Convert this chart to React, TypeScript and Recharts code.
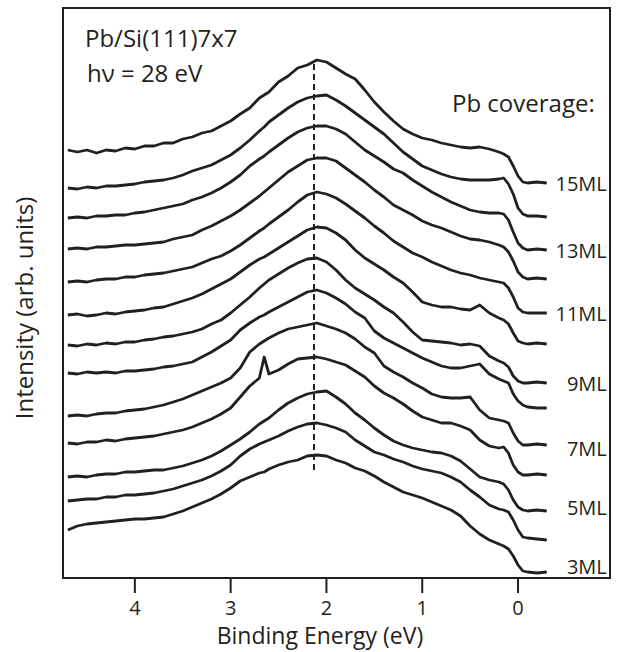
import React from "react";
import {
  LineChart,
  Line,
  XAxis,
  YAxis,
  ReferenceArea,
  ReferenceLine,
  ReferenceDot,
} from "recharts";

const INK = "#231f20";
const FONT = "'Open Sans', 'Noto Sans', sans-serif";

// binding energy grid (eV)
const energies = [
  4.7, 4.6, 4.5, 4.4, 4.3, 4.2, 4.1, 4.0, 3.9, 3.8, 3.7, 3.6, 3.5, 3.4, 3.3, 3.2, 3.1, 3.0, 2.9, 2.8, 2.7,
  2.65,
  2.6, 2.5, 2.4, 2.3, 2.2, 2.1, 2.0, 1.9, 1.8, 1.7, 1.6, 1.5, 1.4, 1.3, 1.2, 1.1, 1.0, 0.9, 0.8, 0.7, 0.6, 0.5, 0.4, 0.3, 0.2,
  0.15, 0.1, 0.05, 0, -0.05, -0.1, -0.2, -0.3,
];

// intensity (arb. units), stacked spectra
const ml15 = [
  428, 426, 428, 425, 428, 427, 430, 429, 432, 432, 435, 435, 439, 441, 445, 447, 452, 457, 464, 470, 480,
  483,
  486, 496, 502, 510, 513, 518, 516, 510, 504, 499, 488, 476, 466, 457, 449, 444, 440, 438, 435, 433, 431, 430, 431, 429, 426,
  424, 421, 412, 402, 396, 395, 396, 395,
];
const ml14 = [
  390, 389, 391, 390, 392, 392, 393, 394, 396, 397, 398, 400, 403, 407, 410, 413, 418, 423, 430, 438, 447,
  451,
  456, 463, 470, 476, 480, 482, 483, 478, 472, 465, 458, 451, 444, 435, 426, 419, 412, 408, 404, 401, 399, 398, 398, 398, 399,
  400, 394, 384, 370, 364, 362, 362, 361,
];
const ml13 = [
  360, 361, 360, 362, 362, 363, 363, 365, 366, 368, 370, 372, 374, 378, 381, 385, 390, 396, 403, 412, 419,
  422,
  426, 433, 440, 446, 450, 452, 452, 449, 444, 436, 428, 422, 416, 409, 405, 398, 392, 386, 381, 376, 372, 368, 366, 365, 365,
  364, 358, 346, 335, 330, 328, 329, 328,
];
const ml12 = [
  329, 330, 329, 331, 331, 332, 333, 333, 334, 335, 336, 339, 341, 343, 348, 352, 357, 362, 368, 375, 382,
  386,
  390, 398, 406, 412, 418, 420, 420, 417, 410, 403, 396, 388, 381, 373, 368, 363, 357, 353, 350, 346, 342, 339, 338, 336, 333,
  331, 326, 317, 306, 301, 299, 300, 299,
];
const ml11 = [
  296, 297, 296, 298, 299, 299, 301, 301, 303, 304, 305, 307, 309, 311, 315, 319, 322, 327, 333, 340, 347,
  350,
  354, 361, 368, 376, 383, 386, 384, 380, 374, 367, 360, 352, 345, 337, 331, 325, 321, 316, 312, 308, 305, 303, 300, 298, 296,
  295, 290, 281, 270, 266, 265, 265, 265,
];
const ml10 = [
  263, 264, 262, 263, 265, 264, 266, 267, 268, 270, 271, 274, 277, 280, 284, 289, 294, 299, 306, 313, 319,
  321,
  324, 330, 336, 342, 348, 351, 350, 345, 338, 328, 320, 314, 308, 301, 295, 286, 276, 273, 271, 271, 269, 268, 273, 265, 260,
  258, 254, 245, 237, 235, 234, 235, 234,
];
const ml9 = [
  233, 232, 234, 233, 235, 234, 236, 236, 238, 239, 241, 242, 244, 246, 249, 254, 258, 265, 273, 281, 290,
  294,
  298, 304, 310, 315, 319, 320, 316, 308, 298, 290, 284, 278, 271, 265, 256, 246, 238, 237, 236, 235, 233, 234, 232, 222, 217,
  215, 211, 202, 197, 195, 195, 196, 195,
];
const ml8 = [
  205, 204, 206, 205, 206, 205, 207, 207, 208, 209, 211, 212, 214, 216, 221, 226, 232, 238, 248, 255, 261,
  263,
  266, 271, 276, 281, 286, 288, 285, 280, 274, 266, 260, 247, 240, 235, 230, 225, 220, 216, 212, 210, 210, 212, 214, 204, 199,
  197, 195, 184, 177, 173, 171, 170, 170,
];
const ml7 = [
  162, 163, 162, 164, 165, 165, 167, 168, 169, 171, 173, 176, 179, 183, 187, 191, 195, 200, 210, 226, 234,
  237,
  240, 245, 249, 251, 253, 255, 252, 249, 245, 239, 231, 225, 212, 206, 201, 195, 190, 184, 181, 180, 180, 181, 168, 160, 158,
  157, 155, 145, 137, 133, 133, 134, 133,
];
const ml6 = [
  135, 134, 136, 136, 138, 137, 139, 140, 141, 142, 144, 146, 148, 151, 155, 159, 164, 170, 181, 192, 200,
  221,
  204, 208, 214, 219, 220, 221, 219, 216, 213, 207, 201, 192, 185, 180, 174, 167, 161, 158, 155, 155, 152, 148, 138, 132, 130,
  131, 125, 113, 106, 103, 103, 104, 103,
];
const ml5 = [
  101, 102, 101, 103, 104, 104, 106, 106, 107, 108, 108, 110, 112, 115, 118, 122, 127, 133, 139, 146, 154,
  157,
  160, 168, 175, 180, 184, 186, 187, 181, 174, 165, 158, 150, 143, 137, 133, 130, 128, 126, 125, 122, 117, 109, 101, 98, 96,
  94, 88, 78, 71, 68, 67, 68, 67,
];
const ml4 = [
  77, 78, 79, 79, 81, 81, 83, 83, 84, 85, 87, 89, 92, 95, 98, 102, 107, 113, 122, 129, 134,
  136,
  138, 142, 147, 151, 154, 155, 153, 150, 146, 138, 132, 126, 123, 119, 116, 112, 109, 107, 105, 101, 96, 88, 81, 73, 69,
  68, 66, 58, 48, 41, 40, 39, 38,
];
const ml3 = [
  48, 52, 54, 55, 56, 57, 58, 59, 59, 60, 61, 64, 67, 71, 75, 79, 84, 90, 97, 101, 105,
  106,
  109, 113, 116, 118, 122, 123, 122, 118, 115, 110, 107, 102, 96, 91, 86, 83, 80, 76, 72, 68, 62, 52, 44, 38, 34,
  32, 29, 22, 13, 7, 6, 5, 6,
];

const curves = [
  { key: "ml15", label: "15ML", values: ml15 },
  { key: "ml14", label: "", values: ml14 },
  { key: "ml13", label: "13ML", values: ml13 },
  { key: "ml12", label: "", values: ml12 },
  { key: "ml11", label: "11ML", values: ml11 },
  { key: "ml10", label: "", values: ml10 },
  { key: "ml9", label: "9ML", values: ml9 },
  { key: "ml8", label: "", values: ml8 },
  { key: "ml7", label: "7ML", values: ml7 },
  { key: "ml6", label: "", values: ml6 },
  { key: "ml5", label: "5ML", values: ml5 },
  { key: "ml4", label: "", values: ml4 },
  { key: "ml3", label: "3ML", values: ml3 },
];

const xTicks = [0, 1, 2, 3, 4];
const peakEnergy = 2.13;
const peakMarkerRange = [108, 516];

// small vertical nudges so the labels sit like the original
const labelNudge: Record<string, number> = { ml7: 3, ml5: -4, ml3: -6 };

export default function App() {
  const rows = energies.map((e, i) => {
    const row: Record<string, number> = { e };
    curves.forEach((c) => {
      row[c.key] = c.values[i];
    });
    return row;
  });
  const lastE = energies[energies.length - 1];

  return (
    <div style={{ position: "absolute", left: 0, top: 0, width: 617, height: 652, background: "#fff", fontFamily: FONT }}>
      <LineChart width={617} height={652} data={rows} margin={{ top: 8, right: 7, left: 63, bottom: 34 }}>
        <XAxis
          dataKey="e"
          type="number"
          domain={[-0.96, 4.75]}
          reversed
          allowDataOverflow
          ticks={xTicks}
          height={40}
          axisLine={false}
          tickLine={{ stroke: INK, strokeWidth: 2 }}
          tickSize={15}
          tickMargin={8}
          tick={{ fill: INK, fontSize: 20, fontFamily: FONT }}
        />
        <YAxis hide type="number" domain={[0, 570]} allowDataOverflow />
        <ReferenceArea x1={4.75} x2={-0.96} y1={0} y2={570} fill="none" stroke={INK} strokeWidth={2} ifOverflow="visible" />
        <ReferenceLine
          segment={[
            { x: peakEnergy, y: peakMarkerRange[0] },
            { x: peakEnergy, y: peakMarkerRange[1] },
          ]}
          stroke={INK}
          strokeWidth={2}
          strokeDasharray="6 4"
        />
        {curves.map((c) => (
          <Line
            key={c.key}
            dataKey={c.key}
            type="linear"
            stroke={INK}
            strokeWidth={2.8}
            strokeLinejoin="round"
            dot={false}
            isAnimationActive={false}
          />
        ))}
        {curves
          .filter((c) => c.label)
          .map((c) => (
            <ReferenceDot
              key={"lab" + c.key}
              x={lastE}
              y={c.values[c.values.length - 1]}
              r={0}
              shape={(p: any) => (
                <text
                  x={p.cx + 60}
                  y={p.cy + (labelNudge[c.key] || 0)}
                  textAnchor="end"
                  dominantBaseline="central"
                  fill={INK}
                  fontSize={20}
                  fontFamily={FONT}
                >
                  {c.label}
                </text>
              )}
            />
          ))}
      </LineChart>
      <svg
        width={617}
        height={652}
        style={{ position: "absolute", left: 0, top: 0, pointerEvents: "none" }}
        fontFamily={FONT}
        fill={INK}
      >
        <text x={85} y={47} fontSize={24}>Pb/Si(111)7x7</text>
        <text x={87} y={82} fontSize={24}>hν = 28 eV</text>
        <text x={452} y={112} fontSize={24}>Pb coverage:</text>
        <text x={320} y={644} fontSize={23} textAnchor="middle">Binding Energy (eV)</text>
        <text x={33} y={308} fontSize={24} textAnchor="middle" transform="rotate(-90 33 308)">
          Intensity (arb. units)
        </text>
      </svg>
    </div>
  );
}
